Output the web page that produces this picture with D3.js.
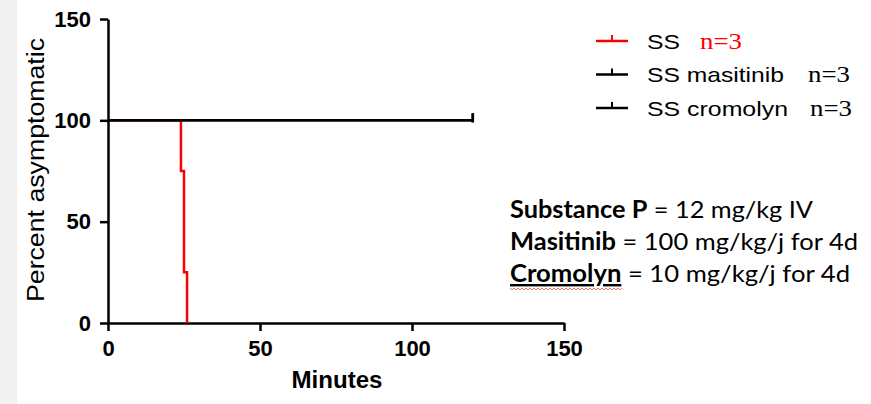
<!DOCTYPE html>
<html>
<head>
<meta charset="utf-8">
<script src="https://cdn.jsdelivr.net/npm/d3@7"></script>
<style>
  body { margin: 0; background: white; }
  svg { display: block; }
</style>
</head>
<body>
<div id="visualization"></div>
<script>
let w = 871;
let h = 404;

// data
let xTicks = [0, 50, 100, 150];
let yTicks = [0, 50, 100, 150];

let ssMinutes = [0, 24, 25, 26];
let ssPercent = [100, 75, 25, 0];

let masitinibMinutes = [0, 120];
let masitinibPercent = [100, 100];

let cromolynMinutes = [0, 120];
let cromolynPercent = [100, 100];

let legendNames = ["SS", "SS masitinib", "SS cromolyn"];
let legendN = ["n=3", "n=3", "n=3"];
let legendColors = ["red", "black", "black"];

let noteBold = ["Substance P", "Masitinib", "Cromolyn"];
let noteRest = [" = 12 mg/kg IV", " = 100 mg/kg/j for 4d", " = 10 mg/kg/j for 4d"];

let viz = d3.select("#visualization")
  .append("svg")
  .attr("width", w)
  .attr("height", h);

// grey strip at the left edge
viz.append("rect")
  .attr("x", 0).attr("y", 0)
  .attr("width", 17).attr("height", h)
  .attr("fill", "#f1f1f1");

let xScale = d3.scaleLinear().domain([0, 150]).range([108, 564]);
let yScale = d3.scaleLinear().domain([0, 150]).range([323, 19]);

// axes
let xAxis = d3.axisBottom(xScale).tickValues(xTicks).tickSize(8).tickSizeOuter(0).tickPadding(9);
let yAxis = d3.axisLeft(yScale).tickValues(yTicks).tickSize(8).tickSizeOuter(0).tickPadding(9);

let xAxisGroup = viz.append("g")
  .attr("transform", "translate(0," + yScale(0) + ")")
  .call(xAxis);
let yAxisGroup = viz.append("g")
  .attr("transform", "translate(" + xScale(0) + ",0)")
  .call(yAxis);

[xAxisGroup, yAxisGroup].forEach(function(g){
  g.select(".domain").attr("stroke", "black").attr("stroke-width", 2.5);
  g.selectAll(".tick line").attr("stroke", "black").attr("stroke-width", 2.5);
  g.selectAll(".tick text")
    .attr("fill", "black")
    .style("font-family", "'Liberation Sans', Arial, sans-serif")
    .style("font-weight", "bold")
    .style("font-size", "22px");
});

// axis titles
viz.append("text")
  .attr("transform", "translate(44,170) rotate(-90)")
  .attr("text-anchor", "middle")
  .attr("textLength", 264)
  .attr("lengthAdjust", "spacingAndGlyphs")
  .style("font-family", "'Liberation Sans', Arial, sans-serif")
  .style("font-size", "23px")
  .text("Percent asymptomatic");

viz.append("text")
  .attr("x", 337)
  .attr("y", 388)
  .attr("text-anchor", "middle")
  .attr("textLength", 91)
  .attr("lengthAdjust", "spacingAndGlyphs")
  .style("font-family", "'Liberation Sans', Arial, sans-serif")
  .style("font-weight", "bold")
  .style("font-size", "23px")
  .text("Minutes");

// survival curves
let stepLine = d3.line()
  .x(function(d){ return xScale(d.t); })
  .y(function(d){ return yScale(d.p); })
  .curve(d3.curveStepAfter);

function pairUp(ts, ps){
  return ts.map(function(t, i){ return {t: t, p: ps[i]}; });
}

// red first so the black lines sit on top of it at 100%
let series = [
  {data: pairUp(ssMinutes, ssPercent), color: "red", censor: false},
  {data: pairUp(cromolynMinutes, cromolynPercent), color: "black", censor: true},
  {data: pairUp(masitinibMinutes, masitinibPercent), color: "black", censor: true}
];

series.forEach(function(s){
  viz.append("path")
    .datum(s.data)
    .attr("d", stepLine)
    .attr("fill", "none")
    .attr("stroke", s.color)
    .attr("stroke-width", 2.5);

  if (s.censor) {
    let last = s.data[s.data.length - 1];
    viz.append("line")
      .attr("x1", xScale(last.t)).attr("x2", xScale(last.t))
      .attr("y1", yScale(last.p) - 7).attr("y2", yScale(last.p) + 2)
      .attr("stroke", s.color)
      .attr("stroke-width", 2.5);
  }
});

// legend
let legend = viz.selectAll(".legenditem").data(legendNames).enter()
  .append("g")
  .attr("class", "legenditem")
  .attr("transform", function(d, i){ return "translate(596," + (41 + i * 33.5) + ")"; });

legend.append("line")
  .attr("x1", 0).attr("x2", 32)
  .attr("y1", 0).attr("y2", 0)
  .attr("stroke", function(d, i){ return legendColors[i]; })
  .attr("stroke-width", 2.5);

legend.append("line")
  .attr("x1", 16).attr("x2", 16)
  .attr("y1", -6).attr("y2", 1)
  .attr("stroke", function(d, i){ return legendColors[i]; })
  .attr("stroke-width", 2);

let nameWidths = [33, 137, 141];
legend.append("text")
  .attr("x", 51)
  .attr("y", 7.5)
  .attr("textLength", function(d, i){ return nameWidths[i]; })
  .attr("lengthAdjust", "spacingAndGlyphs")
  .style("font-family", "'Liberation Sans', Arial, sans-serif")
  .style("font-size", "21px")
  .text(function(d){ return d; });

let nX = [104, 212, 214];
legend.append("text")
  .attr("x", function(d, i){ return nX[i]; })
  .attr("y", 7.5)
  .attr("textLength", 42)
  .attr("lengthAdjust", "spacingAndGlyphs")
  .attr("fill", function(d, i){ return legendColors[i]; })
  .style("font-family", "'Liberation Serif', 'Times New Roman', serif")
  .style("font-size", "23px")
  .text(function(d, i){ return legendN[i]; });

// note text block
let noteY = [218, 250, 282];
let noteWidths = [303, 348, 340];
let notes = viz.selectAll(".note").data(noteBold).enter()
  .append("text")
  .attr("class", "note")
  .attr("x", 510)
  .attr("y", function(d, i){ return noteY[i]; })
  .attr("textLength", function(d, i){ return noteWidths[i]; })
  .attr("lengthAdjust", "spacingAndGlyphs")
  .style("font-family", "Lato, 'Open Sans', sans-serif")
  .style("font-size", "24px")
  .attr("fill", "black");

notes.append("tspan")
  .style("font-weight", "bold")
  .attr("text-decoration", function(d, i){ return i == 2 ? "underline" : null; })
  .text(function(d){ return d; });
notes.append("tspan")
  .text(function(d, i){ return noteRest[i]; });

// spell-check squiggle under "Cromolyn"
let cromoNode = notes.filter(function(d, i){ return i == 2; }).node();
let cromoEnd = cromoNode.getStartPositionOfChar(noteBold[2].length).x;
let squiggle = d3.path();
squiggle.moveTo(510, 288);
for (let x = 510, k = 0; x < cromoEnd; x += 2, k++) {
  squiggle.lineTo(x + 2, k % 2 == 0 ? 290 : 288);
}
viz.append("path")
  .attr("d", squiggle.toString())
  .attr("fill", "none")
  .attr("stroke", "#e05050")
  .attr("stroke-width", 0.8);
</script>
</body>
</html>
